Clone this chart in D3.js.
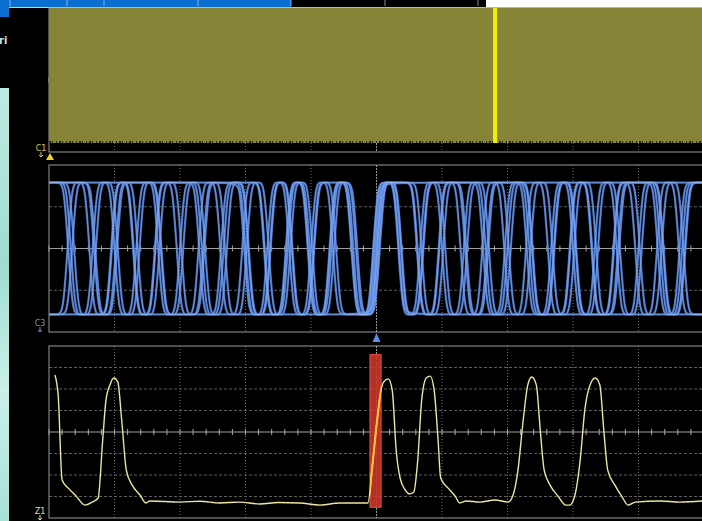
<!DOCTYPE html>
<html>
<head>
<meta charset="utf-8">
<script src="https://cdn.jsdelivr.net/npm/d3@7/dist/d3.min.js"></script>
<style>
body{margin:0;background:#000;overflow:hidden}
svg{display:block}
</style>
</head>
<body>
<div id="scope"></div>
<script>
// time axis in graticule divisions
var divisions = [0,1,2,3,4,5,6,7,8,9,10];
// overview (C1) : envelope in divisions and zoom cursor position
var overviewEnvelope = [-3.5, 4];
var cursorT = [6.81];
// eye / clock trace (C3): logic levels in divisions, bit patterns per sweep
var eyeLevels = [-1.58, 1.58];
var bitTime = 1/3;
var eyeBits = [
  "101010101010100101010101010101",
  "010101010101010110101010101010",
  "111111111001010111111111111111",
  "000000000000000100000000000000",
  "110110011010110101101101001101",
  "100101101101010110110100101101",
  "101010101010100101010101010101",
  "010101010101010110101010101010"
];
var eyeJitter = [0, 0.02, -0.02, 0.01, 0.04, -0.04, 0.05, -0.05];
// zoom trace (Z1): time and value in divisions
var zoomT = [0.09,0.14,0.2,0.29,0.4,0.55,0.66,0.75,0.82,0.87,0.93,0.99,1.05,1.11,1.18,1.27,1.39,1.48,1.54,
  2.0,2.3,2.61,2.9,3.22,3.5,3.83,4.14,4.44,4.82,4.87,4.93,5.01,5.07,5.11,5.18,5.24,5.3,5.36,5.44,5.51,5.57,
  5.63,5.69,5.76,5.82,5.88,5.94,5.98,6.09,6.2,6.27,6.37,6.58,6.81,7.01,7.08,7.16,7.24,7.31,7.37,7.44,7.5,
  7.56,7.65,7.77,7.89,7.95,8.03,8.11,8.18,8.26,8.34,8.41,8.47,8.53,8.64,8.75,8.84,8.95,9.33,9.63,9.97];
var zoomV = [6.65,5.72,1.77,1.4,1.07,0.6,0.74,0.93,3.63,5.49,6.19,6.51,6.33,4.56,2.23,1.53,1.07,0.7,0.79,
  0.74,0.78,0.7,0.74,0.65,0.72,0.7,0.6,0.7,0.7,0.7,2.23,4.56,5.95,6.33,6.47,5.95,3.16,1.86,1.3,1.12,1.21,
  2.7,5.49,6.51,6.6,5.95,3.63,1.86,1.4,1.02,0.7,0.79,0.74,0.84,0.74,1.02,2.23,4.56,6.19,6.56,6.19,4.09,
  2.23,1.53,1.02,0.6,0.6,1.07,2.7,5.02,6.19,6.51,6.19,4.09,2.23,1.53,0.98,0.6,0.74,0.79,0.74,0.79];
var markerT = [4.9, 5.07];
var markerV = [0.5, 7.6];
var channelLabels = ["C1", "C3", "Z1"];

var W = 702, H = 521;
var svg = d3.select("#scope").append("svg").attr("width", W).attr("height", H);
var x = d3.scaleLinear().domain([0, 10]).range([49, 704]);

window.onload = function(){
    drawChrome();
    drawOverview();
    drawEye();
    drawZoom();
}

function drawChrome(){
    var defs = svg.append("defs");
    var grad = defs.append("linearGradient").attr("id", "desk")
        .attr("x1", 0).attr("y1", 0).attr("x2", 0).attr("y2", 1);
    grad.append("stop").attr("offset", "0%").attr("stop-color", "#bfeae2");
    grad.append("stop").attr("offset", "40%").attr("stop-color", "#9fdccf");
    grad.append("stop").attr("offset", "70%").attr("stop-color", "#c9f0e9");
    grad.append("stop").attr("offset", "100%").attr("stop-color", "#a8e0d6");

    svg.append("rect").attr("width", W).attr("height", H).attr("fill", "#000");
    svg.append("rect").attr("x", 0).attr("y", 88).attr("width", 9).attr("height", H - 88).attr("fill", "url(#desk)");
    // task bar at the top
    svg.append("rect").attr("x", 0).attr("y", 0).attr("width", 291).attr("height", 7).attr("fill", "#0b6fd1");
    svg.append("rect").attr("x", 0).attr("y", 0).attr("width", 9).attr("height", 17).attr("fill", "#0b6fd1");
    [10, 67, 104, 198, 291].forEach(function(d){
        svg.append("line").attr("x1", d).attr("x2", d).attr("y1", 0).attr("y2", 6)
            .attr("stroke", "#7fb4ea").attr("stroke-width", 1);
    });
    [385, 478].forEach(function(d){
        svg.append("line").attr("x1", d).attr("x2", d).attr("y1", 0).attr("y2", 6)
            .attr("stroke", "#8a8a8a").attr("stroke-width", 1);
    });
    svg.append("rect").attr("x", 486).attr("y", 0).attr("width", W - 486).attr("height", 7).attr("fill", "#fff");
    svg.append("line").attr("x1", 9).attr("x2", W).attr("y1", 7.5).attr("y2", 7.5)
        .attr("stroke", "#cfd3d6").attr("stroke-width", 1);
    svg.append("text").attr("x", -1).attr("y", 44).text("ri")
        .attr("fill", "#dcdcdc").attr("font-family", "DejaVu Sans").attr("font-weight", "bold").attr("font-size", "10px");
}

// graticule of one panel
function drawGrid(y, yDivs){
    var g = svg.append("g");
    var y0 = y.range()[0], y1 = y.range()[1];
    var dom = y.domain();
    var mid = (dom[0] + dom[1]) / 2;
    divisions.slice(1, -1).forEach(function(d){
        g.append("line").attr("x1", x(d)).attr("x2", x(d)).attr("y1", y1).attr("y2", y0)
            .attr("stroke", d === 5 ? "#9a9a9a" : "#6e6e6e").attr("stroke-width", 1)
            .attr("stroke-dasharray", d === 5 ? "2,1" : "1,2");
    });
    yDivs.forEach(function(v){
        if (v === dom[0] || v === dom[1]) return;
        g.append("line").attr("x1", x(0)).attr("x2", x(10)).attr("y1", y(v)).attr("y2", y(v))
            .attr("stroke", v === mid ? "#a0a0a0" : "#5e5e5e").attr("stroke-width", 1)
            .attr("stroke-dasharray", v === mid ? null : "3,2");
    });
    // minor ticks on the centre lines
    var minor = d3.range(0, 10.01, 0.2);
    g.selectAll(".mt").data(minor).enter().append("line")
        .attr("x1", function(d){ return x(d); }).attr("x2", function(d){ return x(d); })
        .attr("y1", y(mid) - 3).attr("y2", y(mid) + 3)
        .attr("stroke", "#a8a8a8").attr("stroke-width", 1);
    g.append("rect").attr("x", x(0)).attr("y", y1).attr("width", x(10) - x(0)).attr("height", y0 - y1)
        .attr("fill", "none").attr("stroke", "#9a9a9a").attr("stroke-width", 1);
    return g;
}

function drawOverview(){
    var y = d3.scaleLinear().domain([-4, 4]).range([152, 8]);
    drawGrid(y, []);
    svg.append("rect").attr("x", x(0)).attr("y", y(overviewEnvelope[1]))
        .attr("width", W - x(0)).attr("height", y(overviewEnvelope[0]) - y(overviewEnvelope[1]))
        .attr("fill", "#868436");
    svg.append("line").attr("x1", x(0)).attr("x2", W)
        .attr("y1", y(overviewEnvelope[0]) - 1).attr("y2", y(overviewEnvelope[0]) - 1)
        .attr("stroke", "#2e2d12").attr("stroke-width", 2).attr("stroke-dasharray", "2,1,1,3,1,2");
    svg.selectAll(".cursor").data(cursorT).enter().append("rect")
        .attr("x", function(d){ return x(d) - 2; }).attr("y", y(overviewEnvelope[1]))
        .attr("width", 4).attr("height", y(overviewEnvelope[0]) - y(overviewEnvelope[1]))
        .attr("fill", "#f2f000");
    // channel label and offset marker
    svg.append("text").attr("x", 41).attr("y", 151).text(channelLabels[0])
        .attr("fill", "#d9c84a").attr("font-family", "DejaVu Sans").attr("font-size", "8px").attr("text-anchor", "middle");
    svg.append("path").attr("d", "M41,152 L41,157 M39,155 L41,157 L43,155")
        .attr("stroke", "#d9c84a").attr("fill", "none");
    svg.append("path").attr("d", "M50,153 L54,160 L46,160 Z").attr("fill", "#f0d020");
}

function drawEye(){
    var y = d3.scaleLinear().domain([-2, 2]).range([332, 165]);
    drawGrid(y, [-2, -1, 0, 1, 2]);
    svg.append("clipPath").attr("id", "eyeClip").append("rect")
        .attr("x", x(0)).attr("y", 165).attr("width", W - x(0)).attr("height", 167);
    var edgeTime = 0.17;
    function lvl(c){ return c === "1" ? eyeLevels[1] : eyeLevels[0]; }
    var traces = eyeBits.map(function(bits, i){
        var jit = eyeJitter[i];
        var pts = [[-0.2, lvl(bits[0])]];
        for (var k = 1; k < bits.length; k++){
            if (bits[k] !== bits[k - 1]){
                var tb = k * bitTime + jit;
                var a = lvl(bits[k - 1]), b = lvl(bits[k]);
                pts.push([tb - edgeTime * 0.9, a]);
                pts.push([tb - edgeTime * 0.4, a]);
                pts.push([tb, (a + b) / 2]);
                pts.push([tb + edgeTime * 0.4, b]);
                pts.push([tb + edgeTime * 0.9, b]);
            }
        }
        pts.push([10.2, lvl(bits[bits.length - 1])]);
        return pts;
    });
    var line = d3.line().curve(d3.curveBasis)
        .x(function(d){ return x(d[0]); })
        .y(function(d){ return y(d[1]); });
    var g = svg.append("g").attr("clip-path", "url(#eyeClip)");
    g.selectAll(".eyeW").data(traces).enter().append("path")
        .attr("d", line).attr("fill", "none")
        .attr("stroke", "#4d7fdc").attr("stroke-width", 2.2).attr("stroke-opacity", 0.85);
    g.selectAll(".eyeL").data(traces).enter().append("path")
        .attr("d", line).attr("fill", "none")
        .attr("stroke", "#93b4f2").attr("stroke-width", 0.7).attr("stroke-opacity", 0.7);
    svg.append("text").attr("x", 40).attr("y", 326).text(channelLabels[1])
        .attr("fill", "#7f93c0").attr("font-family", "DejaVu Sans").attr("font-size", "8px").attr("text-anchor", "middle");
    svg.append("path").attr("d", "M40,327 L40,332 M38,330 L40,332 L42,330")
        .attr("stroke", "#7f93c0").attr("fill", "none");
    // trigger position marker
    svg.append("path").attr("d", "M" + x(5) + ",333 L" + (x(5) + 4) + ",342 L" + (x(5) - 4) + ",342 Z")
        .attr("fill", "#5b8fe0");
}

function drawZoom(){
    var y = d3.scaleLinear().domain([0, 8]).range([518, 346]);
    drawGrid(y, [0,1,2,3,4,5,6,7,8]);
    var pts = zoomT.map(function(t, i){ return [t, zoomV[i]]; });
    var line = d3.line().curve(d3.curveMonotoneX)
        .x(function(d){ return x(d[0]); })
        .y(function(d){ return y(d[1]); });
    svg.append("rect").attr("x", x(markerT[0])).attr("y", y(markerV[1]))
        .attr("width", x(markerT[1]) - x(markerT[0])).attr("height", y(markerV[0]) - y(markerV[1]))
        .attr("fill", "#c8362c").attr("fill-opacity", 0.9).attr("stroke", "#e85040").attr("stroke-width", 1);
    svg.append("path").datum(pts).attr("d", line).attr("fill", "none")
        .attr("stroke", "#ece6a0").attr("stroke-width", 1.4);
    svg.append("clipPath").attr("id", "markClip").append("rect")
        .attr("x", x(markerT[0])).attr("y", y(markerV[1]))
        .attr("width", x(markerT[1]) - x(markerT[0])).attr("height", y(markerV[0]) - y(markerV[1]));
    svg.append("path").datum(pts).attr("d", line).attr("fill", "none").attr("clip-path", "url(#markClip)")
        .attr("stroke", "#ffc23a").attr("stroke-width", 2);
    svg.append("text").attr("x", 40).attr("y", 514).text(channelLabels[2])
        .attr("fill", "#e6dc8a").attr("font-family", "DejaVu Sans").attr("font-size", "8px").attr("text-anchor", "middle");
    svg.append("path").attr("d", "M40,515 L40,520 M38,518 L40,520 L42,518")
        .attr("stroke", "#e6dc8a").attr("fill", "none");
}
</script>
</body>
</html>
